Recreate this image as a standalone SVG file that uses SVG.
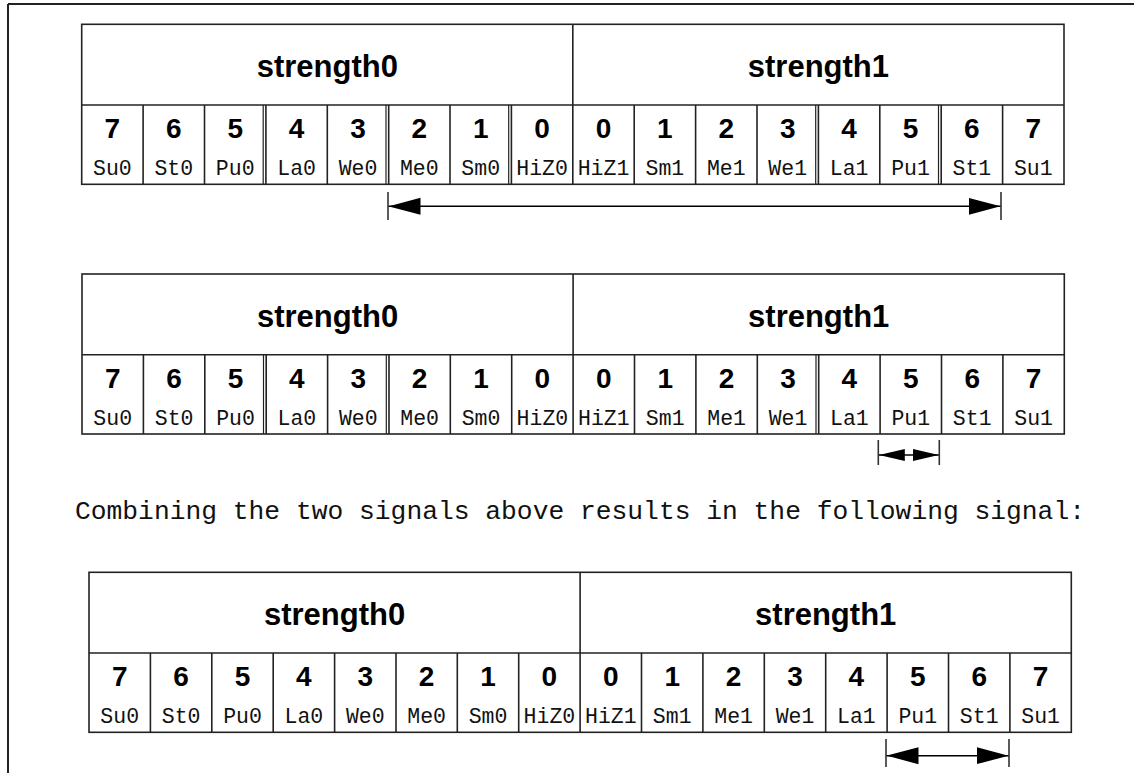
<svg xmlns="http://www.w3.org/2000/svg" width="1134" height="773" viewBox="0 0 1134 773">
<defs>
<style>
.ln{stroke:#222;stroke-width:1.6;fill:none}
.dl{stroke:#222;stroke-width:1.2;fill:none}
.hd{font-family:"Liberation Sans",Arial,sans-serif;font-weight:bold;font-size:31px;text-anchor:middle;fill:#000}
.dg{font-family:"Liberation Sans",Arial,sans-serif;font-weight:bold;font-size:28px;text-anchor:middle;fill:#000}
.lb{font-family:"Liberation Mono","Courier New",monospace;font-size:21.5px;text-anchor:middle;fill:#111}
.cap{font-family:"Liberation Mono","Courier New",monospace;font-size:26.3px;fill:#111}
.tk{stroke:#333;stroke-width:1.6}
.ar{stroke:#000;stroke-width:1.4}
</style>
<marker id="ahL" markerUnits="userSpaceOnUse" markerWidth="32" markerHeight="18" refX="30" refY="8" orient="auto-start-reverse" viewBox="0 0 30 16"><polygon points="30,8 0,0 0,16" fill="#000"/></marker>
<marker id="ahS" markerUnits="userSpaceOnUse" markerWidth="26" markerHeight="12" refX="24" refY="5.5" orient="auto-start-reverse" viewBox="0 0 24 11"><polygon points="24,5.5 0,0 0,11" fill="#000"/></marker>
<g id="table-cols">
<line class="ln" x1="0" y1="80.7" x2="982.3" y2="80.7"/>
<line class="ln" x1="61.4" y1="80.7" x2="61.4" y2="160"/>
<line class="ln" x1="122.8" y1="80.7" x2="122.8" y2="160"/>
<line class="ln" x1="184.2" y1="80.7" x2="184.2" y2="160"/>
<line class="ln" x1="245.6" y1="80.7" x2="245.6" y2="160"/>
<line class="ln" x1="307.0" y1="80.7" x2="307.0" y2="160"/>
<line class="ln" x1="368.3" y1="80.7" x2="368.3" y2="160"/>
<line class="ln" x1="429.7" y1="80.7" x2="429.7" y2="160"/>
<line class="ln" x1="491.1" y1="0" x2="491.1" y2="160"/>
<line class="ln" x1="552.5" y1="80.7" x2="552.5" y2="160"/>
<line class="ln" x1="613.9" y1="80.7" x2="613.9" y2="160"/>
<line class="ln" x1="675.3" y1="80.7" x2="675.3" y2="160"/>
<line class="ln" x1="736.7" y1="80.7" x2="736.7" y2="160"/>
<line class="ln" x1="798.1" y1="80.7" x2="798.1" y2="160"/>
<line class="ln" x1="859.5" y1="80.7" x2="859.5" y2="160"/>
<line class="ln" x1="920.9" y1="80.7" x2="920.9" y2="160"/>
<rect class="ln" x="0" y="0" width="982.3" height="160"/>
<text class="hd" x="245.6" y="53">strength0</text>
<text class="hd" x="736.7" y="53">strength1</text>
<text class="dg" x="30.7" y="114">7</text>
<text class="dg" x="92.1" y="114">6</text>
<text class="dg" x="153.5" y="114">5</text>
<text class="dg" x="214.9" y="114">4</text>
<text class="dg" x="276.3" y="114">3</text>
<text class="dg" x="337.6" y="114">2</text>
<text class="dg" x="399.0" y="114">1</text>
<text class="dg" x="460.4" y="114">0</text>
<text class="dg" x="521.8" y="114">0</text>
<text class="dg" x="583.2" y="114">1</text>
<text class="dg" x="644.6" y="114">2</text>
<text class="dg" x="706.0" y="114">3</text>
<text class="dg" x="767.4" y="114">4</text>
<text class="dg" x="828.8" y="114">5</text>
<text class="dg" x="890.2" y="114">6</text>
<text class="dg" x="951.6" y="114">7</text>
<text class="lb" x="30.7" y="150.7">Su0</text>
<text class="lb" x="92.1" y="150.7">St0</text>
<text class="lb" x="153.5" y="150.7">Pu0</text>
<text class="lb" x="214.9" y="150.7">La0</text>
<text class="lb" x="276.3" y="150.7">We0</text>
<text class="lb" x="337.6" y="150.7">Me0</text>
<text class="lb" x="399.0" y="150.7">Sm0</text>
<text class="lb" x="460.4" y="150.7">HiZ0</text>
<text class="lb" x="521.8" y="150.7">HiZ1</text>
<text class="lb" x="583.2" y="150.7">Sm1</text>
<text class="lb" x="644.6" y="150.7">Me1</text>
<text class="lb" x="706.0" y="150.7">We1</text>
<text class="lb" x="767.4" y="150.7">La1</text>
<text class="lb" x="828.8" y="150.7">Pu1</text>
<text class="lb" x="890.2" y="150.7">St1</text>
<text class="lb" x="951.6" y="150.7">Su1</text>
</g>
</defs>
<rect x="0" y="0" width="1134" height="773" fill="#fff"/>
<g id="frame">
<line x1="8" y1="4" x2="1134" y2="4" stroke="#222" stroke-width="2"/>
<line x1="8" y1="4" x2="8" y2="773" stroke="#222" stroke-width="2"/>
</g>
<g id="table1" transform="translate(81.7,24.3)">
<use href="#table-cols"/>
<line class="dl" x1="181.5" y1="80.7" x2="181.5" y2="160"/>
<line class="dl" x1="304.3" y1="80.7" x2="304.3" y2="160"/>
<line class="dl" x1="427" y1="80.7" x2="427" y2="160"/>
<line class="dl" x1="734" y1="80.7" x2="734" y2="160"/>
<line class="dl" x1="856.8" y1="80.7" x2="856.8" y2="160"/>
</g>
<g id="table2" transform="translate(82,274)">
<use href="#table-cols"/>
<line class="dl" x1="181.5" y1="80.7" x2="181.5" y2="160"/>
<line class="dl" x1="304.3" y1="80.7" x2="304.3" y2="160"/>
<line class="dl" x1="734" y1="80.7" x2="734" y2="160"/>
</g>
<g id="caption">
<text class="cap" x="75" y="519">Combining the two signals above results in the following signal:</text>
</g>
<g id="table3" transform="translate(89,572.3)">
<use href="#table-cols"/>
</g>
<g id="connectors">
<line class="tk" x1="388" y1="192" x2="388" y2="220"/>
<line class="tk" x1="1001" y1="192" x2="1001" y2="220"/>
<line class="ar" x1="388.5" y1="206.3" x2="1000.5" y2="206.3" marker-start="url(#ahL)" marker-end="url(#ahL)"/>
<line class="tk" x1="878.3" y1="440" x2="878.3" y2="465"/>
<line class="tk" x1="939.3" y1="440" x2="939.3" y2="465"/>
<line class="ar" x1="878.8" y1="455" x2="938.8" y2="455" marker-start="url(#ahS)" marker-end="url(#ahS)"/>
<line class="tk" x1="886" y1="739" x2="886" y2="767"/>
<line class="tk" x1="1009" y1="739" x2="1009" y2="767"/>
<line class="ar" x1="886.5" y1="755.7" x2="1008.5" y2="755.7" marker-start="url(#ahL)" marker-end="url(#ahL)"/>
</g>
</svg>
